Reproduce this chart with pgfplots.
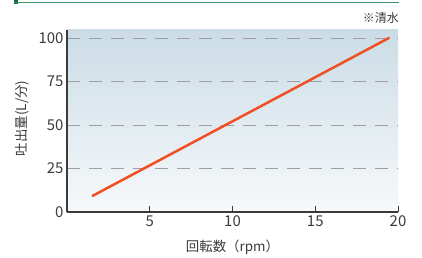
\documentclass[border=0pt]{standalone}
\usepackage{pgfplots}
\pgfplotsset{compat=1.18}
\usepackage{fontspec}
\setmainfont{Noto Sans CJK JP}
\definecolor{txt}{HTML}{3A3A3A}
\definecolor{ln}{HTML}{F04E23}
\definecolor{grn}{HTML}{3E9468}
\definecolor{dgrn}{HTML}{14673A}
\definecolor{bgtop}{HTML}{CBDCE6}
\definecolor{bgbot}{HTML}{F7F9FB}
\begin{document}
\begin{tikzpicture}[x=1bp,y=1bp]
\useasboundingbox (0,0) rectangle (422,258);
\fill[dgrn] (14,254) rectangle (18,258);
\draw[grn, line width=1.3bp] (14,255.5) -- (399,255.5);
\node[anchor=east, text=txt, font=\fontsize{12}{13}\selectfont, inner sep=0pt] at (399,240.5) {※清水};
\begin{axis}[
  at={(67bp,46bp)}, anchor=south west,
  scale only axis, width=331bp, height=182bp,
  xmin=0, xmax=20, ymin=0, ymax=104.6,
  axis lines*=left,
  axis line style={draw=txt, line width=1.2bp, -},
  xtick={5,10,15,20}, ytick={0,25,50,75,100},
  tick align=inside,
  major tick length=6bp,
  ytick style={draw=none},
  xtick style={draw=txt, line width=1bp},
  ymajorgrids,
  major grid style={draw=gray!75, line width=1bp, dash pattern=on 13bp off 9bp},
  axis background/.style={top color=bgtop, bottom color=bgbot},
  tick label style={text=txt, font=\fontsize{15}{16}\selectfont},
  /pgf/number format/assume math mode=true,
  xlabel={回転数（rpm）}, ylabel={吐出量(L/分)},
  label style={text=txt, font=\fontsize{13.5}{14}\selectfont},
  xlabel style={at={(axis description cs:0.5,0)}, anchor=north, yshift=-24bp},
  ylabel style={at={(axis description cs:0,0.515)}, anchor=south, yshift=34bp},
  clip=false,
]
\addplot[ln, line width=2.5bp, line cap=round] coordinates {(1.55,9.3) (19.45,100)};
\end{axis}
\end{tikzpicture}
\end{document}
